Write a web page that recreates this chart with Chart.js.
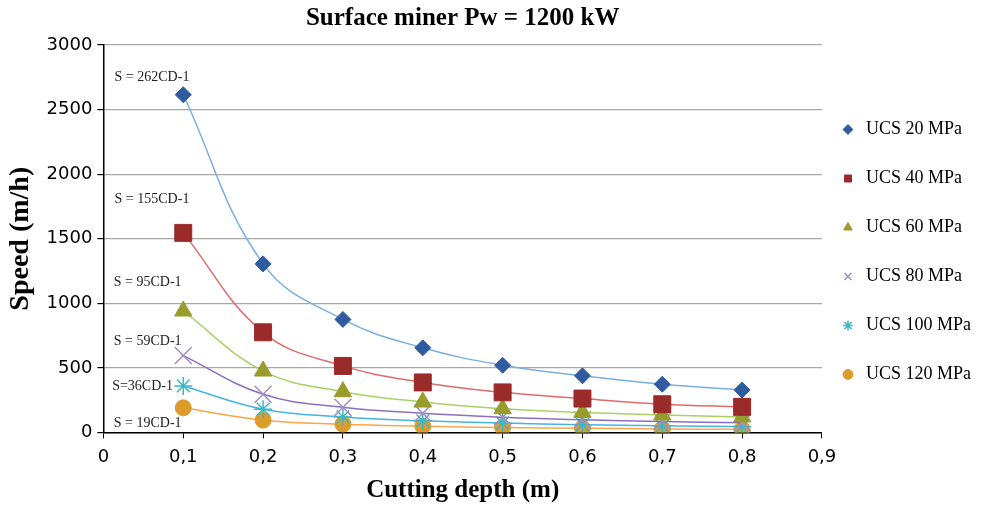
<!DOCTYPE html>
<html>
<head>
<meta charset="utf-8">
<script src="https://cdn.jsdelivr.net/npm/chart.js@4.4.1/dist/chart.umd.min.js"></script>
<style>
    html, body { margin: 0; padding: 0; background: #fff; }
    #wrap { width: 986px; height: 506px; }
</style>
</head>
<body>
<div id="wrap"><canvas id="speedChart"></canvas></div>
<script>
// cutting depth (m)
const depths = [0.1, 0.2, 0.3, 0.4, 0.5, 0.6, 0.7, 0.8];
// speed (m/h) per rock strength
const ucs20 = [2615, 1305, 875, 655, 520, 438, 373, 328];
const ucs40 = [1545, 775, 515, 387, 310, 262, 218, 198];
const ucs60 = [940, 475, 315, 235, 183, 155, 135, 120];
const ucs80 = [595, 295, 195, 148, 118, 98, 85, 74];
const ucs100 = [360, 180, 120, 90, 72, 60, 51, 45];
const ucs120 = [190, 95, 63, 48, 38, 32, 27, 24];
const seriesNames = ['UCS 20 MPa', 'UCS 40 MPa', 'UCS 60 MPa', 'UCS 80 MPa', 'UCS 100 MPa', 'UCS 120 MPa'];
const xTickLabels = ['0', '0,1', '0,2', '0,3', '0,4', '0,5', '0,6', '0,7', '0,8', '0,9'];
// trend line equations and where they sit (depth, speed)
const trendTexts = ['S = 262CD-1', 'S = 155CD-1', 'S = 95CD-1', 'S = 59CD-1', 'S=36CD-1', 'S = 19CD-1'];
const trendAtX = [0.014, 0.014, 0.013, 0.013, 0.011, 0.013];
const trendAtY = [2753, 1802, 1160, 704, 356, 70];

const allSeries = [ucs20, ucs40, ucs60, ucs80, ucs100, ucs120];
const markerColors = ['#2e5c9f', '#9b2a2a', '#979c2b', '#a48ec0', '#3db7c6', '#dc9c2c'];
const lineColors = ['#7aaee0', '#e26a6a', '#a8d164', '#8d6fbf', '#45b4e2', '#fba54a'];
const shapes = ['rectRot', 'rect', 'triangle', 'crossRot', 'star', 'circle'];
const sizes = [8, 12, 10, 12, 9, 8];

function toPoints(values) {
    return values.map(function(v, i) { return { x: depths[i], y: v }; });
}

const datasets = allSeries.map(function(values, i) {
    return {
        label: seriesNames[i],
        data: toPoints(values),
        showLine: true,
        tension: 0.4,
        borderColor: lineColors[i],
        borderWidth: 1.5,
        pointStyle: shapes[i],
        pointRadius: sizes[i],
        pointBackgroundColor: markerColors[i],
        pointBorderColor: markerColors[i],
        pointBorderWidth: (shapes[i] === 'crossRot' || shapes[i] === 'star') ? 1.5 : 1
    };
});

// writes the fitted equations next to the curves
const trendLabelPlugin = {
    id: 'trendLabels',
    afterDatasetsDraw(chart) {
        const ctx = chart.ctx;
        const xs = chart.scales.x;
        const ys = chart.scales.y;
        ctx.save();
        ctx.font = '14px "Liberation Serif", "Times New Roman", serif';
        ctx.fillStyle = '#222';
        ctx.textAlign = 'left';
        ctx.textBaseline = 'middle';
        trendTexts.forEach(function(t, i) {
            ctx.fillText(t, xs.getPixelForValue(trendAtX[i]), ys.getPixelForValue(trendAtY[i]));
        });
        ctx.restore();
    }
};

const serif = '"Liberation Serif", "Times New Roman", serif';
const sans = '"DejaVu Sans", Verdana, sans-serif';

new Chart(document.getElementById('speedChart'), {
    type: 'scatter',
    data: { datasets: datasets },
    plugins: [trendLabelPlugin],
    options: {
        responsive: true,
        maintainAspectRatio: false,
        animation: false,
        layout: { padding: { left: 4, right: 5, top: 2, bottom: 0 } },
        plugins: {
            title: {
                display: true,
                fullSize: false,
                text: 'Surface miner Pw = 1200 kW',
                color: '#000',
                font: { family: serif, size: 25, weight: 'bold' },
                padding: { top: 2, bottom: 11 }
            },
            legend: {
                position: 'right',
                // empty title only pushes the rows down a little
                title: { display: true, text: '', font: { size: 6, lineHeight: 1 }, padding: 2 },
                labels: {
                    usePointStyle: true,
                    boxHeight: 7,
                    padding: 17,
                    color: '#000',
                    font: { family: serif, size: 18, lineHeight: 32 / 18 },
                    // one-line arrays so the row height follows the font line height
                    generateLabels: function(chart) {
                        const items = Chart.defaults.plugins.legend.labels.generateLabels(chart);
                        items.forEach(function(it) { it.text = [it.text]; });
                        return items;
                    }
                }
            },
            tooltip: { enabled: false }
        },
        scales: {
            x: {
                type: 'linear',
                min: 0,
                max: 0.9,
                border: { color: '#000', width: 1.5 },
                grid: { drawOnChartArea: false, tickColor: '#000', tickLength: 6 },
                ticks: {
                    stepSize: 0.1,
                    padding: 8,
                    color: '#000',
                    font: { family: sans, size: 18 },
                    callback: function(value, index) { return xTickLabels[index]; }
                },
                title: {
                    display: true,
                    text: 'Cutting depth (m)',
                    color: '#000',
                    font: { family: serif, size: 25, weight: 'bold' },
                    padding: { top: 0, bottom: 0 }
                }
            },
            y: {
                min: 0,
                max: 3000,
                border: { color: '#000', width: 1.5 },
                grid: { color: '#a8a8a8', lineWidth: 1.2, tickColor: '#000', tickLength: 6 },
                ticks: {
                    stepSize: 500,
                    padding: 5,
                    color: '#000',
                    font: { family: sans, size: 18 },
                    callback: function(value) { return String(value); }
                },
                title: {
                    display: true,
                    text: 'Speed (m/h)',
                    color: '#000',
                    font: { family: serif, size: 28, weight: 'bold' },
                    padding: { top: 0, bottom: 4 }
                }
            }
        }
    }
});
</script>
</body>
</html>
